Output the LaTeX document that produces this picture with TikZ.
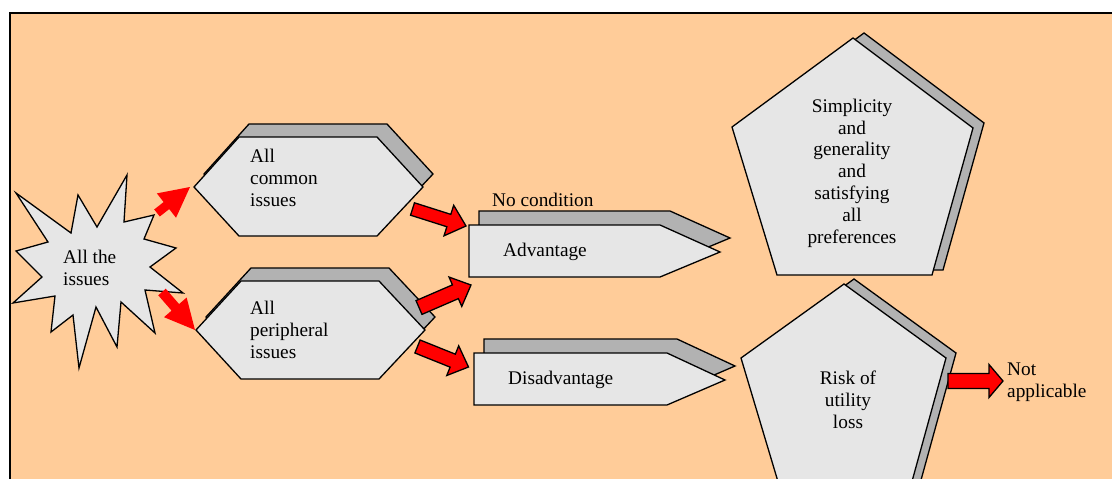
\documentclass[tikz,border=0pt]{standalone}
\usepackage{fontspec}
\setmainfont{Liberation Serif}
\usetikzlibrary{calc}

\definecolor{peach}{RGB}{255,204,153}
\definecolor{panel}{RGB}{230,230,230}
\definecolor{shade}{RGB}{178,178,178}

\tikzset{
  panelfront/.style={draw=black, line width=1.3pt, fill=panel},
  panelback/.style={draw=black, line width=1.3pt, fill=shade},
  txt/.style={font=\fontsize{19.3}{21.8}\selectfont, inner sep=0pt, text=black},
  redflat/.style={fill=red, draw=none},
  redlined/.style={fill=red, draw=black, line width=1.3pt},
}

% block arrow: #1 style, #2 tail, #3 tip, #4 half shaft, #5 half head, #6 head length
\newcommand\blockarrow[6]{%
  \coordinate (ba-h) at ($(#3)!#6!(#2)$);
  \draw[#1] ($(#2)!#4!90:(#3)$) -- ($(ba-h)!#4!90:(#3)$) -- ($(ba-h)!#5!90:(#3)$)
    -- (#3) -- ($(ba-h)!#5!-90:(#3)$) -- ($(ba-h)!#4!-90:(#3)$)
    -- ($(#2)!#4!-90:(#3)$) -- cycle;
}

\begin{document}
\begin{tikzpicture}[x=1pt, y=-1pt]
\useasboundingbox (0,0) rectangle (1112,479);

% panel background and its frame
\fill[peach] (10,13) rectangle (1112,479);
\draw[line width=2pt] (10,479) -- (10,13) -- (1112,13);

% starburst
\draw[panelfront] (127,175) -- (124,222) -- (154,215) -- (144,239) -- (176,248)
  -- (150,267) -- (183,293) -- (145,290) -- (155,333) -- (121,302) -- (117,347)
  -- (96,307) -- (79,368) -- (73,315) -- (51,332) -- (55,296) -- (13,303)
  -- (42,277) -- (16,251) -- (48,242) -- (16,193) -- (71,233) -- (78,195)
  -- (97,227) -- cycle;
\node[txt, anchor=west, align=left] (allissues) at (63,267.5) {All the\\issues};

% hexagon: common issues
\draw[panelback, shift={(10,-13)}] (194,187) -- (239,137) -- (377,137) -- (423,187) -- (377,236) -- (239,236) -- cycle;
\draw[panelfront] (194,187) -- (239,137) -- (377,137) -- (423,187) -- (377,236) -- (239,236) -- cycle;
\node[txt, anchor=west, align=left] (common) at (250,178) {All\\common\\issues};

% hexagon: peripheral issues
\draw[panelback, shift={(10,-13)}] (196,330) -- (241,281) -- (379,281) -- (425,330) -- (379,379) -- (241,379) -- cycle;
\draw[panelfront] (196,330) -- (241,281) -- (379,281) -- (425,330) -- (379,379) -- (241,379) -- cycle;
\node[txt, anchor=west, align=left] (peripheral) at (250,330) {All\\peripheral\\issues};

% pointer: advantage
\draw[panelback, shift={(10,-14)}] (469,225) -- (660,225) -- (720,252) -- (660,277) -- (469,277) -- cycle;
\draw[panelfront] (469,225) -- (660,225) -- (720,252) -- (660,277) -- (469,277) -- cycle;
\node[txt, anchor=base west] (advantage) at (503,256) {Advantage};
\node[txt, anchor=base west] (nocondition) at (492,206) {No condition};

% pointer: disadvantage
\draw[panelback, shift={(10,-14)}] (474,353) -- (667,353) -- (725,380) -- (667,405) -- (474,405) -- cycle;
\draw[panelfront] (474,353) -- (667,353) -- (725,380) -- (667,405) -- (474,405) -- cycle;
\node[txt, anchor=base west] (disadvantage) at (508,384) {Disadvantage};

% pentagon: simplicity
\draw[panelback, shift={(11,-5)}] (853,38) -- (973,128) -- (932,275) -- (777,275) -- (732,127) -- cycle;
\draw[panelfront] (853,38) -- (973,128) -- (932,275) -- (777,275) -- (732,127) -- cycle;
\node[txt, align=center] (simplicity) at (852,173)
  {Simplicity\\and\\generality\\and\\satisfying\\all\\preferences};

% pentagon: risk
\draw[panelback, shift={(10,-5)}] (844,284) -- (946,358) -- (911,485) -- (779,485) -- (741,358) -- cycle;
\draw[panelfront] (844,284) -- (946,358) -- (911,485) -- (779,485) -- (741,358) -- cycle;
\node[txt, align=center] (risk) at (848,400) {Risk of\\utility\\loss};

% outcome label
\node[txt, anchor=west, align=left] (notapplicable) at (1007,382) {Not\\applicable};

% arrow end points
\coordinate (star-up)   at (157,213);
\coordinate (common-in) at (190,187);
\coordinate (star-dn)   at (162,292);
\coordinate (periph-in) at (195,330);
\coordinate (common-out) at (412.5,209);
\coordinate (adv-in1)    at (466,226);
\coordinate (periph-out1) at (419,307.5);
\coordinate (adv-in2)     at (471,285);
\coordinate (periph-out2) at (417.5,346.5);
\coordinate (disadv-in)   at (468.5,367);
\coordinate (risk-out)    at (948,381);
\coordinate (na-in)       at (1003,381);

% arrows
\blockarrow{redflat}{star-up}{common-in}{4.5pt}{15.5pt}{30pt}
\blockarrow{redflat}{star-dn}{periph-in}{5pt}{15pt}{30pt}
\blockarrow{redlined}{common-out}{adv-in1}{6.5pt}{16pt}{18pt}
\blockarrow{redlined}{periph-out1}{adv-in2}{7.5pt}{16pt}{17pt}
\blockarrow{redlined}{periph-out2}{disadv-in}{7pt}{16pt}{17pt}
\blockarrow{redlined}{risk-out}{na-in}{7.5pt}{16.5pt}{14pt}
\end{tikzpicture}
\end{document}
